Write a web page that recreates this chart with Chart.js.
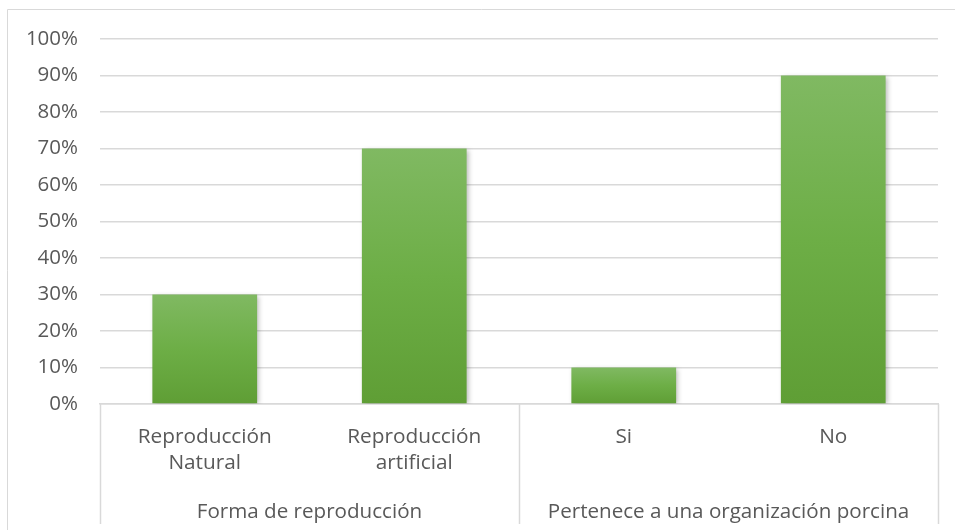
<!DOCTYPE html>
<html><head><meta charset="utf-8">
<script src="https://cdn.jsdelivr.net/npm/chart.js@4/dist/chart.umd.min.js"></script>
<style>html,body{margin:0;padding:0;background:#fff}#wrap{width:955px;height:530px;position:relative}</style>
</head><body><div id="wrap"><canvas id="c" width="955" height="530"></canvas></div>
<script>
const categories = [["Reproducción","Natural"],["Reproducción","artificial"],"Si","No"];
const groups = ["Forma de reproducción","Pertenece a una organización porcina"];
const groupSizes = [2,2];
const values = [30,70,10,90];
const yMax = 100, yStep = 10;

const FONT = "'Open Sans', sans-serif";
const TXT = '#595959', GRID = '#d9d9d9';

const frame = {
  id:'frame',
  beforeDraw(chart){
    const c = chart.ctx; c.save();
    c.strokeStyle = GRID; c.lineWidth = 1;
    c.beginPath();
    c.moveTo(7.5, 531); c.lineTo(7.5, 9.5); c.lineTo(960, 9.5);
    c.stroke(); c.restore();
  },
  afterDraw(chart){
    const x = chart.scales.x, y = chart.scales.y, c = chart.ctx;
    const w = x.getPixelForValue(1) - x.getPixelForValue(0);
    let idx = 0; const bounds = [x.getPixelForValue(0) - w/2];
    groupSizes.forEach(n => { idx += n; bounds.push(x.getPixelForValue(idx-1) + w/2); });
    c.save(); c.strokeStyle = GRID; c.lineWidth = 1.5;
    c.beginPath();
    bounds.forEach(b => { const px = Math.round(b)+0.5; c.moveTo(px, y.bottom); c.lineTo(px, 524); });
    c.stroke(); c.restore();
  }
};
const shadow = {
  id:'shadow',
  beforeDatasetsDraw(chart){ const c=chart.ctx; c.save(); c.shadowColor='rgba(0,0,0,0.28)'; c.shadowBlur=5; c.shadowOffsetX=2; c.shadowOffsetY=1; },
  afterDatasetsDraw(chart){ chart.ctx.restore(); }
};

new Chart(document.getElementById('c'), {
  type:'bar',
  data:{ labels: categories, datasets:[{
    data: values,
    backgroundColor: (ctx) => {
      const chart = ctx.chart; if (!chart.chartArea) return '#6aab45';
      const ys = chart.scales.y;
      const top = ys.getPixelForValue(ctx.raw), bot = ys.getPixelForValue(0);
      const g = chart.ctx.createLinearGradient(0, top, 0, bot);
      g.addColorStop(0, '#80b962'); g.addColorStop(0.5, '#6dae46'); g.addColorStop(1, '#5f9e35');
      return g;
    },
    barPercentage:0.5, categoryPercentage:1, borderWidth:0
  }]},
  options:{
    responsive:false, animation:false, devicePixelRatio:1,
    layout:{ padding:{ left:0, right:17, top:39, bottom:0 } },
    plugins:{ legend:{display:false}, tooltip:{enabled:false} },
    scales:{
      y:{ min:0, max:yMax, ticks:{ stepSize:yStep, color:TXT, font:{family:FONT, size:20.5}, padding:22,
            callback:v => v + '%' },
          grid:{ color:GRID, lineWidth:1.5, drawTicks:false }, border:{display:false},
          afterFit(s){ s.width = 100; } },
      x:{ position:'bottom', offset:true,
          ticks:{ color:TXT, font:{family:FONT, size:20.8, lineHeight:1.25}, padding:20, maxRotation:0, autoSkip:false },
          grid:{ display:false, drawTicks:false }, border:{ display:true, color:GRID, width:1.5 },
          afterFit(s){ s.height = 80; } },
      x2:{ type:'category', position:'bottom', labels: groups, offset:true,
          ticks:{ color:TXT, font:{family:FONT, size:20.6}, padding:16, maxRotation:0, autoSkip:false },
          grid:{ display:false, drawTicks:false }, border:{display:false},
          afterFit(s){ s.height = 46; } }
    }
  },
  plugins:[frame, shadow]
});
</script></body></html>
